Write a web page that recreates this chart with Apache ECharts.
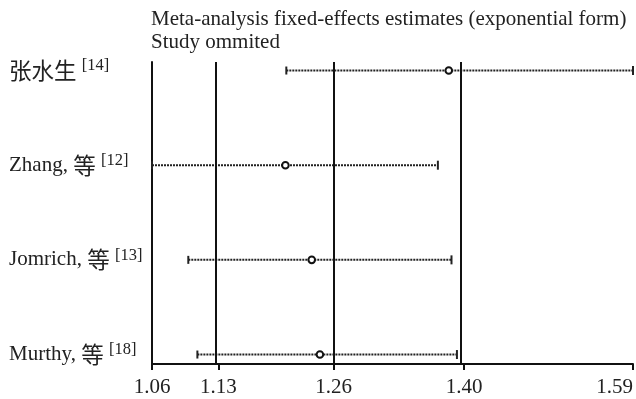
<!DOCTYPE html>
<html><head><meta charset="utf-8">
<script src="https://cdn.jsdelivr.net/npm/echarts@6/dist/echarts.min.js"></script>
<style>html,body{margin:0;padding:0;background:#fff}#c{width:636px;height:399px}</style>
</head><body><div id="c"></div>
<script>
const studies = ['张水生', 'Zhang, 等', 'Jomrich, 等', 'Murthy, 等'];
const refs = ['[14]', '[12]', '[13]', '[18]'];
const estimates = [1.387, 1.207, 1.236, 1.245];
const lowerCI = [1.208, 1.06, 1.100, 1.110];
const upperCI = [1.59, 1.375, 1.390, 1.396];
const tickValues = [1.06, 1.133, 1.260, 1.404, 1.59];
const refLines = [1.133, 1.260, 1.404];
const titleLines = ['Meta-analysis fixed-effects estimates (exponential form)', 'Study ommited'];

const TIMES = '"Liberation Serif", serif';
const CJK = '"Noto Sans CJK SC", sans-serif';
const n = studies.length;
const rows = studies.map((s, i) => [n - i, lowerCI[i], estimates[i], upperCI[i]]);
function richName(s) {
  return s.replace(/([\u4e00-\u9fff]+)|([^\u4e00-\u9fff]+)/g, (m, c, l) => c ? '{c|' + c + '}' : '{n|' + l + '}');
}
const labelByPos = {};
studies.forEach((s, i) => { labelByPos[n - i] = richName(s) + '{n| }{s|' + refs[i] + '}'; });

const chart = echarts.init(document.getElementById('c'), null, {renderer: 'canvas'});
chart.setOption({
  animation: false,
  backgroundColor: '#fff',
  title: {
    text: titleLines.join('\n'),
    left: 151, top: 8, padding: 0,
    textStyle: {fontFamily: TIMES, fontSize: 21, fontWeight: 'normal', color: '#222', lineHeight: 23}
  },
  grid: {left: 152, right: 2, top: 62, bottom: 35, containLabel: false},
  xAxis: {
    type: 'value', min: 1.06, max: 1.59,
    axisLine: {show: true, lineStyle: {color: '#111', width: 2}},
    axisTick: {show: true, customValues: tickValues, length: 6, lineStyle: {color: '#111', width: 2}},
    axisLabel: {customValues: tickValues, formatter: v => Number(v).toFixed(2), fontFamily: TIMES, fontSize: 21, color: '#222', margin: 13, alignMaxLabel: 'right'},
    splitLine: {show: false}
  },
  yAxis: {
    type: 'value', min: 0.9, max: 4.09,
    axisLine: {show: true, lineStyle: {color: '#111', width: 2}},
    axisTick: {show: false},
    splitLine: {show: false},
    axisLabel: {
      customValues: [1, 2, 3, 4],
      formatter: v => labelByPos[Math.round(v)] || '',
      align: 'left', margin: 143,
      rich: {
        n: {fontFamily: TIMES, fontSize: 21, color: '#222', lineHeight: 26},
        c: {fontFamily: CJK, fontSize: 22.5, color: '#222', lineHeight: 26},
        s: {fontFamily: TIMES, fontSize: 16.5, color: '#222', verticalAlign: 'top', lineHeight: 26, padding: [0, 0, 5, 0]}
      }
    }
  },
  series: [{
    type: 'custom',
    data: rows,
    encode: {x: [1, 2, 3], y: 0},
    clip: false,
    renderItem: function (params, api) {
      const y = api.value(0);
      const pLo = api.coord([api.value(1), y]);
      const pE = api.coord([api.value(2), y]);
      const pHi = api.coord([api.value(3), y]);
      const line = {stroke: '#222', lineWidth: 2, lineDash: [2, 1]};
      const cap = {stroke: '#222', lineWidth: 2};
      return {type: 'group', children: [
        {type: 'line', shape: {x1: pLo[0], y1: pLo[1], x2: pHi[0], y2: pHi[1]}, style: line},
        {type: 'line', shape: {x1: pLo[0], y1: pLo[1] - 4, x2: pLo[0], y2: pLo[1] + 4}, style: cap},
        {type: 'line', shape: {x1: pHi[0], y1: pHi[1] - 4.5, x2: pHi[0], y2: pHi[1] + 4.5}, style: cap},
        {type: 'circle', shape: {cx: pE[0], cy: pE[1], r: 3.3}, style: {fill: '#fff', stroke: '#111', lineWidth: 2}}
      ]};
    },
    markLine: {
      silent: true, symbol: 'none', label: {show: false},
      lineStyle: {color: '#111', width: 2, type: 'solid'},
      data: refLines.map(v => ({xAxis: v}))
    }
  }]
});
</script></body></html>
